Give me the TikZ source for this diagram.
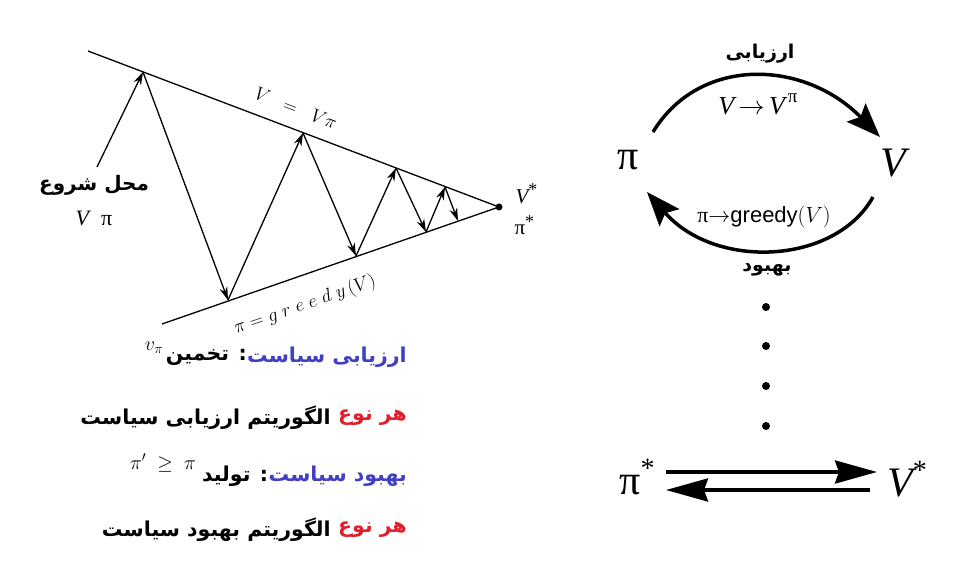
\documentclass[tikz,border=0pt]{standalone}
\usepackage{fix-cm}
\usepackage{fontspec}
\usetikzlibrary{arrows.meta}
\TeXXeTstate=1
\newfontfamily\fa[Script=Arabic]{DejaVu Sans}
\newfontfamily\tms{Liberation Serif}
\newfontfamily\hel{Liberation Sans}
\definecolor{pblue}{RGB}{64,64,192}
\definecolor{pred}{RGB}{226,30,42}
\tikzset{
  edge/.style={line width=1.3pt},
  zz/.style={line width=1.3pt,-{Stealth[length=13pt,width=8pt]}},
  bigarc/.style={line width=3.5pt,-{Stealth[length=34pt,width=26pt,inset=6pt]}},
  bigarr/.style={line width=3.5pt,-{Stealth[length=42pt,width=23pt,inset=4pt]}},
  fatxt/.style={inner sep=0pt,font=\fa\bfseries\fontsize{20.5}{24}\selectfont},
  dotn/.style={circle,fill=black,inner sep=0pt,minimum size=8pt}
}
\newcommand{\bigstar}{\raisebox{0.42em}{\fontsize{28}{30}\selectfont *}}
\newcommand{\smstar}{\raisebox{0.36em}{\fontsize{18}{20}\selectfont *}}
\begin{document}
\begin{tikzpicture}[x=1pt,y=-1pt]
\useasboundingbox[fill=white] (0,0) rectangle (977,572);
% ---------------- left: convergence diagram
\coordinate (U0) at (88,51);
\coordinate (L0) at (162,324);
\node[dotn,minimum size=7pt] (A) at (499,207) {};
\coordinate (S) at (97,167);
\coordinate (P1) at (143,72);
\coordinate (P2) at (228,300);
\coordinate (P3) at (303,133);
\coordinate (P4) at (356,256);
\coordinate (P5) at (396,168);
\coordinate (P6) at (426,232);
\coordinate (P7) at (445,187);
\coordinate (P8) at (458,221);
\draw[edge] (U0) -- (A.center);
\draw[edge] (L0) -- (A.center);
\draw[zz] (S) -- (P1);
\draw[zz] (P1) -- (P2);
\draw[zz] (P2) -- (P3);
\draw[zz] (P3) -- (P4);
\draw[zz] (P4) -- (P5);
\draw[zz] (P5) -- (P6);
\draw[zz] (P6) -- (P7);
\draw[zz] (P7) -- (P8);
\node[rotate=-20.8,font=\fontsize{19}{22}\selectfont] (lv) at (296,108) {$V\;\;=\;\;V\pi$};
\node[rotate=19.1,font=\fontsize{19}{22}\selectfont] (lp) at (305,305) {$\pi = g\;r\;e\;e\;d\;y\,(V)$};
\node[fatxt,font=\fa\bfseries\fontsize{20}{24}\selectfont] (start) at (94,185) {\beginR محل شروع\endR};
\node[font=\tms\fontsize{22}{24}\selectfont] (vpi) at (94,218) {{\itshape V}\hspace{12pt}π};
\node[font=\tms\fontsize{21}{24}\selectfont,anchor=west] (vs) at (512,194) {{\itshape V}\smstar};
\node[font=\tms\fontsize{21}{24}\selectfont,anchor=west] (ps) at (511,225) {π\smstar};
% ---------------- left: text lines
\node[fatxt,anchor=east,text=pblue] (t1a) at (407,357) {\beginR ارزیابی سیاست\endR};
\node[fatxt,anchor=east] (t1b) at (t1a.west) {\beginR: تخمین\endR};
\node[font=\fontsize{20}{22}\selectfont] (m1) at (154,348) {$v_\pi$};
\node[fatxt,anchor=east,text=pred] (t2a) at (407,418) {\beginR هر نوع\endR};
\node[fatxt,anchor=east] (t2b) at ([xshift=-7pt]t2a.west) {\beginR الگوریتم ارزیابی سیاست\endR};
\node[fatxt,anchor=east,text=pblue] (t3a) at (407,476) {\beginR بهبود سیاست\endR};
\node[fatxt,anchor=east] (t3b) at (t3a.west) {\beginR: تولید\endR};
\node[font=\fontsize{20}{22}\selectfont] (m3) at (163,463) {$\pi'\;\geq\;\pi$};
\node[fatxt,anchor=east,text=pred] (t4a) at (407,530) {\beginR هر نوع\endR};
\node[fatxt,anchor=east] (t4b) at ([xshift=-7pt]t4a.west) {\beginR الگوریتم بهبود سیاست\endR};
% ---------------- right: policy iteration cycle
\node[font=\tms\fontsize{42}{44}\selectfont] (pi) at (628,160) {π};
\node[font=\tms\itshape\fontsize{42}{44}\selectfont] (V) at (893,163) {V};
\coordinate (a1) at (653,132);
\coordinate (a2) at (880,137);
\coordinate (b1) at (873,197);
\coordinate (b2) at (647,192);
\draw[bigarc] (a1) .. controls (700,55) and (805,60) .. (a2);
\draw[bigarc] (b1) .. controls (835,265) and (715,270) .. (b2);
\node[fatxt,font=\fa\bfseries\fontsize{19}{22}\selectfont] (eval) at (760,54) {\beginR ارزیابی\endR};
\node[font=\tms\fontsize{26}{28}\selectfont] (ev) at (758,104) {{\itshape V}\,$\rightarrow$\,{\itshape V}\hspace{3pt}\raisebox{0.45em}{\fontsize{19}{20}\selectfont π}};
\node[font=\fontsize{22}{24}\selectfont] (imp) at (764,217) {{\tms π}$\rightarrow${\hel greedy}$(V)$};
\node[fatxt,font=\fa\bfseries\fontsize{19}{22}\selectfont] (impl) at (767,270) {\beginR بهبود\endR};
\node[dotn] (d1) at (766,307) {};
\node[dotn] (d2) at (766,346) {};
\node[dotn] (d3) at (766,386) {};
\node[dotn] (d4) at (766,426) {};
\node[font=\tms\fontsize{42}{44}\selectfont] (pis) at (637,477) {π\bigstar};
\node[font=\tms\fontsize{42}{44}\selectfont] (Vs) at (907,479) {{\itshape V}\bigstar};
\coordinate (c1) at (666,472);
\coordinate (c2) at (877,472);
\coordinate (c3) at (870,490);
\coordinate (c4) at (666,490);
\draw[bigarr] (c1) -- (c2);
\draw[bigarr] (c3) -- (c4);
\end{tikzpicture}
\end{document}
